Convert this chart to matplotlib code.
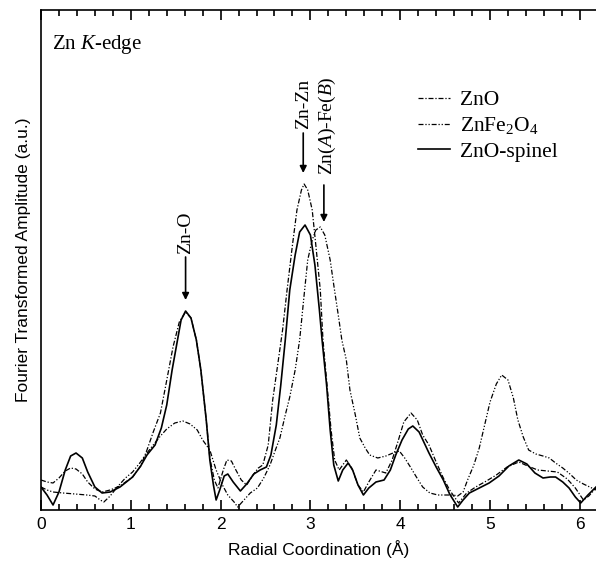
import numpy as np
import matplotlib
matplotlib.use("Agg")
import matplotlib.pyplot as plt

plt.rcParams['mathtext.fontset'] = 'custom'
plt.rcParams['mathtext.rm'] = 'Liberation Serif'
plt.rcParams['mathtext.it'] = 'Liberation Serif:italic'
plt.rcParams['font.family'] = ['Liberation Sans', 'DejaVu Sans']

# === Dados
r_spinel = [0.00, 0.067, 0.134, 0.20, 0.27, 0.33, 0.39, 0.46, 0.52, 0.60, 0.68, 0.77, 0.88, 1.02,
            1.11, 1.18, 1.27, 1.34, 1.40, 1.46, 1.51, 1.56, 1.61, 1.67, 1.73, 1.78, 1.84, 1.88,
            1.92, 1.95, 1.99, 2.04, 2.08, 2.14, 2.22, 2.29, 2.37, 2.44, 2.51, 2.56, 2.62, 2.67,
            2.72, 2.77, 2.83, 2.88, 2.94, 3.00, 3.05, 3.10, 3.13, 3.18, 3.22, 3.26, 3.31, 3.36,
            3.42, 3.47, 3.53, 3.59, 3.65, 3.73, 3.82, 3.89, 3.95, 4.02, 4.09, 4.14, 4.21, 4.32,
            4.40, 4.48, 4.55, 4.64, 4.70, 4.77, 4.88, 4.99, 5.10, 5.21, 5.32, 5.41, 5.50, 5.59,
            5.67, 5.73, 5.81, 5.88, 5.95, 6.01, 6.09, 6.18]
a_spinel = [0.23, 0.15, 0.05, 0.18, 0.40, 0.54, 0.57, 0.52, 0.38, 0.23, 0.17, 0.18, 0.23, 0.33,
            0.44, 0.55, 0.65, 0.82, 1.05, 1.40, 1.65, 1.90, 1.99, 1.92, 1.70, 1.40, 0.90, 0.50,
            0.25, 0.10, 0.20, 0.34, 0.36, 0.28, 0.19, 0.26, 0.36, 0.40, 0.43, 0.55, 0.85, 1.25,
            1.70, 2.20, 2.55, 2.78, 2.85, 2.75, 2.45, 2.00, 1.70, 1.25, 0.80, 0.45, 0.29, 0.40,
            0.47, 0.40, 0.25, 0.15, 0.22, 0.28, 0.30, 0.40, 0.55, 0.70, 0.81, 0.84, 0.78, 0.57,
            0.43, 0.30, 0.16, 0.03, 0.10, 0.17, 0.22, 0.27, 0.34, 0.44, 0.50, 0.46, 0.37, 0.32,
            0.33, 0.33, 0.28, 0.22, 0.13, 0.07, 0.15, 0.23]

r_zno = [0.00, 0.067, 0.134, 0.20, 0.27, 0.33, 0.39, 0.46, 0.52, 0.60, 0.68, 0.77, 0.88, 1.02,
         1.11, 1.18, 1.25, 1.33, 1.39, 1.47, 1.54, 1.61, 1.67, 1.73, 1.78, 1.84, 1.88, 1.93,
         1.97, 2.03, 2.07, 2.12, 2.17, 2.23, 2.29, 2.36, 2.42, 2.47, 2.53, 2.58, 2.64, 2.69,
         2.74, 2.80, 2.85, 2.90, 2.93, 2.97, 3.02, 3.06, 3.11, 3.14, 3.19, 3.23, 3.27, 3.32,
         3.40, 3.46, 3.53, 3.59, 3.65, 3.73, 3.84, 3.91, 3.98, 4.04, 4.12, 4.19, 4.25, 4.32,
         4.40, 4.48, 4.55, 4.65, 4.74, 4.84, 4.96, 5.07, 5.19, 5.32, 5.42, 5.53, 5.64, 5.75,
         5.86, 5.95, 6.04, 6.10, 6.18]
a_zno = [0.30, 0.28, 0.27, 0.32, 0.39, 0.42, 0.41, 0.36, 0.28, 0.21, 0.18, 0.20, 0.24, 0.33,
         0.44, 0.60, 0.78, 0.97, 1.25, 1.63, 1.88, 1.98, 1.92, 1.70, 1.40, 0.90, 0.52, 0.30,
         0.22, 0.40, 0.50, 0.49, 0.40, 0.30, 0.25, 0.35, 0.42, 0.45, 0.65, 1.10, 1.48, 1.80,
         2.20, 2.65, 3.00, 3.20, 3.26, 3.20, 3.00, 2.65, 2.20, 1.70, 1.20, 0.80, 0.50, 0.40,
         0.50, 0.42, 0.25, 0.18, 0.28, 0.40, 0.37, 0.50, 0.70, 0.88, 0.97, 0.90, 0.75, 0.65,
         0.48, 0.32, 0.20, 0.07, 0.17, 0.23, 0.29, 0.35, 0.43, 0.48, 0.44, 0.40, 0.39, 0.38,
         0.31, 0.22, 0.10, 0.14, 0.22]

r_fe = [0.00, 0.067, 0.134, 0.245, 0.38, 0.51, 0.60, 0.66, 0.70, 0.77, 0.85, 0.94, 1.02, 1.10,
        1.18, 1.25, 1.33, 1.40, 1.49, 1.58, 1.66, 1.74, 1.80, 1.88, 1.95, 2.02, 2.08, 2.15,
        2.19, 2.25, 2.33, 2.41, 2.48, 2.55, 2.61, 2.66, 2.72, 2.77, 2.83, 2.88, 2.93, 2.97,
        3.02, 3.06, 3.11, 3.16, 3.22, 3.26, 3.31, 3.35, 3.40, 3.44, 3.50, 3.55, 3.61, 3.66,
        3.75, 3.84, 3.92, 3.99, 4.05, 4.12, 4.18, 4.25, 4.33, 4.42, 4.51, 4.59, 4.64, 4.70,
        4.75, 4.82, 4.88, 4.94, 5.00, 5.07, 5.13, 5.20, 5.26, 5.31, 5.37, 5.43, 5.51, 5.59,
        5.66, 5.73, 5.81, 5.89, 5.96, 6.04, 6.11, 6.18]
a_fe = [0.23, 0.20, 0.18, 0.17, 0.16, 0.15, 0.14, 0.10, 0.08, 0.14, 0.23, 0.32, 0.38, 0.47,
        0.57, 0.65, 0.74, 0.81, 0.87, 0.89, 0.86, 0.80, 0.70, 0.60, 0.40, 0.25, 0.15, 0.08,
        0.03, 0.09, 0.17, 0.22, 0.32, 0.45, 0.60, 0.72, 0.95, 1.13, 1.40, 1.70, 2.15, 2.50,
        2.70, 2.80, 2.83, 2.75, 2.50, 2.25, 1.95, 1.70, 1.50, 1.20, 0.95, 0.72, 0.62, 0.55,
        0.52, 0.54, 0.57, 0.59, 0.52, 0.42, 0.33, 0.23, 0.17, 0.15, 0.15, 0.15, 0.14, 0.18,
        0.30, 0.45, 0.62, 0.85, 1.08, 1.26, 1.35, 1.30, 1.12, 0.90, 0.73, 0.60, 0.56, 0.54,
        0.52, 0.47, 0.42, 0.36, 0.30, 0.26, 0.23, 0.20]

serif = 'Liberation Serif'

# === Gráfico
fig = plt.figure(figsize=(5.96, 5.61), dpi=100)
ax = fig.add_axes([41 / 596, 51 / 561, 555 / 596, 500 / 561])

ax.plot(r_zno, a_zno, color='black', lw=0.9, linestyle=(0, (4, 1.5, 1, 1.5)), label='ZnO')
ax.plot(r_fe, a_fe, color='black', lw=0.9, linestyle=(0, (4, 1.5, 1, 1.5, 1, 1.5)),
        label='ZnFe$_2$O$_4$')
ax.plot(r_spinel, a_spinel, color='black', lw=1.2, label='ZnO-spinel', solid_joinstyle='round')

ax.set_xlim(0, 6.18)
ax.set_ylim(0, 5.0)
ax.set_xticks(range(0, 7))
ax.set_xticks(np.arange(0, 6.2, 0.2), minor=True)
ax.set_yticks([])
ax.tick_params(axis='x', which='both', direction='in', top=True, bottom=True,
               labelsize=12.5, width=1.2, pad=5)
ax.tick_params(axis='x', which='major', length=7)
ax.tick_params(axis='x', which='minor', length=4)
ax.spines['right'].set_visible(False)
for s in ['left', 'top', 'bottom']:
    ax.spines[s].set_linewidth(1.2)

ax.set_xlabel('Radial Coordination (Å)', fontsize=12.5, labelpad=6)
ax.set_ylabel('Fourier Transformed Amplitude (a.u.)', fontsize=12.5, labelpad=7)

ax.text(0.02, 0.93, 'Zn $K$-edge', transform=ax.transAxes, fontsize=15, family=serif,
        ha='left', va='center')

arrow = dict(arrowstyle='-|>', color='black', lw=1.2, mutation_scale=10, shrinkA=0, shrinkB=0)
ax.annotate('', xy=(1.61, 2.10), xytext=(1.61, 2.53), arrowprops=arrow)
ax.text(1.61, 2.77, 'Zn-O', rotation=90, fontsize=14, family=serif, ha='center', va='center')
ax.annotate('', xy=(2.92, 3.37), xytext=(2.92, 3.77), arrowprops=arrow)
ax.text(2.92, 4.06, 'Zn-Zn', rotation=90, fontsize=14, family=serif, ha='center', va='center')
ax.annotate('', xy=(3.15, 2.88), xytext=(3.15, 3.25), arrowprops=arrow)
ax.text(3.19, 3.84, 'Zn($A$)-Fe($B$)', rotation=90, fontsize=14, family=serif,
        ha='center', va='center')

ax.legend(loc='upper left', bbox_to_anchor=(0.679, 0.84), frameon=False,
          prop={'family': serif, 'size': 15.5}, handlelength=1.5, handletextpad=0.47,
          borderpad=0, borderaxespad=0, labelspacing=0.25)

fig.savefig('out.png', dpi=100)
